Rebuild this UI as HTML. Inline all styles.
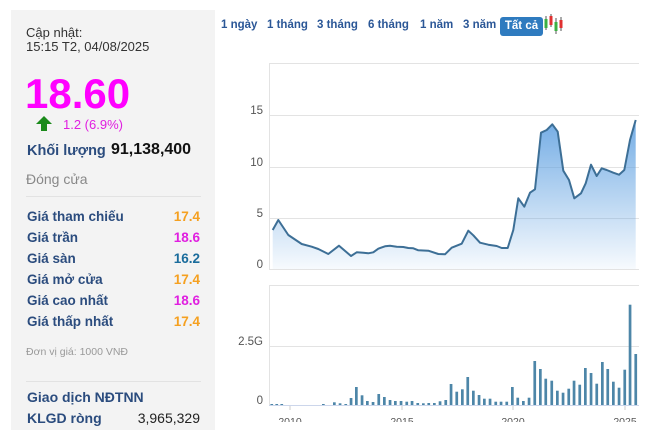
<!DOCTYPE html>
<html><head><meta charset="utf-8"><style>
body{margin:0;width:653px;height:422px;overflow:hidden;background:#fff;font-family:"Liberation Sans",Arial,sans-serif;position:relative}
.p{position:absolute;left:11px;top:10px;width:204px;height:420px;background:#f3f3f3}
.t{position:absolute;white-space:nowrap}
.lb{left:27px;font-size:13.5px;font-weight:bold;color:#2b4c7e}
.v{right:453px;font-size:13.5px;font-weight:bold;text-align:right}
.tab{position:absolute;top:19px;font-size:11.5px;font-weight:bold;color:#2b5797}
</style></head><body>
<div class="p"></div>
<div class="t" style="left:26px;top:25px;font-size:13px;color:#333">Cập nhật:</div>
<div class="t" style="left:26px;top:39px;font-size:13px;color:#333">15:15 T2, 04/08/2025</div>
<div class="t" style="left:25px;top:70px;font-size:42px;font-weight:bold;color:#f0f">18.60</div>
<svg style="position:absolute;left:35px;top:116px" width="18" height="16"><polygon points="9,0 17,8 12,8 12,15 6,15 6,8 1,8" fill="#1a8a1a"/></svg>
<div class="t" style="left:63px;top:117px;font-size:13px;color:#e020e0">1.2 (6.9%)</div>
<div class="t lb" style="top:143px;font-size:14.5px">Khối lượng</div>
<div class="t" style="left:111px;top:141px;font-size:16px;font-weight:bold;color:#111">91,138,400</div>
<div class="t" style="left:26px;top:171px;font-size:14px;color:#888">Đóng cửa</div>
<div class="t" style="left:26px;top:196px;width:175px;border-top:1px solid #e2e2e2"></div>
<div class="t lb" style="top:209px">Giá tham chiếu</div><div class="t v" style="top:209px;color:#f5a020">17.4</div>
<div class="t lb" style="top:230px">Giá trần</div><div class="t v" style="top:230px;color:#e020e0">18.6</div>
<div class="t lb" style="top:251px">Giá sàn</div><div class="t v" style="top:251px;color:#1a6c9c">16.2</div>
<div class="t lb" style="top:272px">Giá mở cửa</div><div class="t v" style="top:272px;color:#f5a020">17.4</div>
<div class="t lb" style="top:293px">Giá cao nhất</div><div class="t v" style="top:293px;color:#e020e0">18.6</div>
<div class="t lb" style="top:314px">Giá thấp nhất</div><div class="t v" style="top:314px;color:#f5a020">17.4</div>
<div class="t" style="left:26px;top:346px;font-size:10.5px;color:#999">Đơn vị giá: 1000 VNĐ</div>
<div class="t" style="left:26px;top:381px;width:175px;border-top:1px solid #e2e2e2"></div>
<div class="t lb" style="top:389px;font-size:14px">Giao dịch NĐTNN</div>
<div class="t lb" style="top:410px;font-size:14px">KLGD ròng</div><div class="t" style="right:453px;top:410px;font-size:14px;color:#222">3,965,329</div>

<div class="tab" style="left:221px">1 ngày</div>
<div class="tab" style="left:267px">1 tháng</div>
<div class="tab" style="left:317px">3 tháng</div>
<div class="tab" style="left:368px">6 tháng</div>
<div class="tab" style="left:420px">1 năm</div>
<div class="tab" style="left:463px">3 năm</div>
<div class="t" style="left:500px;top:17px;width:43px;height:19px;background:#2f7bbf;border-radius:3px;color:#fff;font-size:11.5px;font-weight:bold;text-align:center;line-height:19px">Tất cả</div>
<svg style="position:absolute;left:543px;top:13px" width="22" height="22">
<line x1="3" y1="3" x2="3" y2="17" stroke="#555"/><rect x="1.5" y="6" width="3" height="9" fill="#3cb043"/>
<line x1="8" y1="1" x2="8" y2="14" stroke="#555"/><rect x="6.5" y="3" width="3" height="9" fill="#e03030"/>
<line x1="13" y1="5" x2="13" y2="21" stroke="#555"/><rect x="11.5" y="9" width="3" height="9" fill="#3cb043"/>
<line x1="18" y1="4" x2="18" y2="18" stroke="#555"/><rect x="16.5" y="7" width="3" height="8" fill="#e03030"/>
</svg>

<svg style="position:absolute;left:0;top:0" width="653" height="422" font-family="Liberation Sans,Arial,sans-serif">
<defs><linearGradient id="g" x1="0" y1="0" x2="0" y2="1"><stop offset="0" stop-color="#5b9ee0" stop-opacity="0.85"/><stop offset="1" stop-color="#5b9ee0" stop-opacity="0.05"/></linearGradient></defs>
<g stroke="#e3e3e3" stroke-width="1">
<line x1="269" y1="63.5" x2="639" y2="63.5"/><line x1="269" y1="115.5" x2="639" y2="115.5"/><line x1="269" y1="167.5" x2="639" y2="167.5"/><line x1="269" y1="218.5" x2="639" y2="218.5"/><line x1="269" y1="269.5" x2="639" y2="269.5"/>
<line x1="269.5" y1="63" x2="269.5" y2="269"/>
<line x1="269" y1="285.5" x2="639" y2="285.5"/><line x1="269" y1="346.5" x2="639" y2="346.5"/><line x1="269.5" y1="285" x2="269.5" y2="405"/>
</g>
<g fill="#555" font-size="11.5" text-anchor="end">
<text x="263" y="114">15</text><text x="263" y="166">10</text><text x="263" y="217">5</text><text x="263" y="268">0</text>
<text x="263" y="345">2.5G</text><text x="263" y="404">0</text>
</g>
<g fill="#555" font-size="10.5" text-anchor="middle">
<text x="290" y="425">2010</text><text x="402" y="425">2015</text><text x="513" y="425">2020</text><text x="625" y="425">2025</text>
</g>
<g stroke="#ccc"><line x1="290" y1="405" x2="290" y2="410"/><line x1="402" y1="405" x2="402" y2="410"/><line x1="513" y1="405" x2="513" y2="410"/><line x1="625" y1="405" x2="625" y2="410"/></g>
<path fill="url(#g)" d="M272.7,230 L278.3,220 L288.3,235 L301.7,244 L311.7,246.7 L318.3,249 L328.3,254 L339,245.7 L351,256 L356.7,252.3 L363.3,252.7 L368.3,253.3 L373.3,252.3 L378.3,248.7 L385,246.3 L390,245.7 L396.7,246.7 L403.3,247 L408.3,248 L413.3,248.3 L418.3,250.3 L428.3,250.7 L438.3,254 L445,254.3 L451.7,247.7 L461.7,243.7 L468.3,230.7 L473.3,235.3 L480,242.7 L488.3,244.7 L496.7,246 L501.7,248 L507.7,248 L513.3,230 L518.3,198.3 L524.3,206.7 L530,192.7 L535,189.3 L541,132.7 L546.7,130 L552.3,124.3 L557.7,131.7 L563.3,170.7 L569,180 L574.3,198.3 L581,193.3 L585.7,183.3 L591,164.7 L596.7,176 L601.7,168.3 L606.7,170 L613.3,172.7 L619,174.7 L624.3,170 L630,140 L635.7,120 L635.7,269 L272.7,269 Z"/>
<polyline fill="none" stroke="#3d6f96" stroke-width="2" stroke-linejoin="round" points="272.7,230 278.3,220 288.3,235 301.7,244 311.7,246.7 318.3,249 328.3,254 339,245.7 351,256 356.7,252.3 363.3,252.7 368.3,253.3 373.3,252.3 378.3,248.7 385,246.3 390,245.7 396.7,246.7 403.3,247 408.3,248 413.3,248.3 418.3,250.3 428.3,250.7 438.3,254 445,254.3 451.7,247.7 461.7,243.7 468.3,230.7 473.3,235.3 480,242.7 488.3,244.7 496.7,246 501.7,248 507.7,248 513.3,230 518.3,198.3 524.3,206.7 530,192.7 535,189.3 541,132.7 546.7,130 552.3,124.3 557.7,131.7 563.3,170.7 569,180 574.3,198.3 581,193.3 585.7,183.3 591,164.7 596.7,176 601.7,168.3 606.7,170 613.3,172.7 619,174.7 624.3,170 630,140 635.7,120"/>
<g fill="#4d86a8" id="bars"></g>
<line x1="269" y1="405.5" x2="639" y2="405.5" stroke="#ccd6eb"/>
</svg>
<script>
var d=[[170,1212],[185,1212],[200,1212],[325,1212],[358,1207],[375,1210],[392,1212],[408,1194],[424,1161],[441,1186],[457,1203],[474,1206],[491,1182],[508,1191],[525,1200],[541,1203],[558,1203],[575,1205],[591,1203],[608,1209],[625,1210],[641,1209],[658,1209],[675,1204],[692,1200],[708,1152],[725,1175],[742,1168],[758,1131],[775,1172],[792,1185],[808,1196],[825,1196],[842,1205],[858,1205],[875,1205],[892,1161],[908,1193],[925,1203],[942,1193],[959,1083],[976,1107],[992,1136],[1010,1142],[1027,1172],[1044,1178],[1061,1166],[1077,1142],[1094,1154],[1111,1104],[1128,1119],[1145,1151],[1162,1086],[1178,1107],[1195,1145],[1212,1163],[1229,1109],[1245,914],[1262,1062]];
var g=document.getElementById('bars'),s='';
d.forEach(function(b){var x=215+b[0]/3-1.3,y=b[1]/3;s+='<rect x="'+x.toFixed(1)+'" y="'+y.toFixed(1)+'" width="2.7" height="'+(405-y).toFixed(1)+'"/>';});
g.innerHTML=s;
</script>
</body></html>
